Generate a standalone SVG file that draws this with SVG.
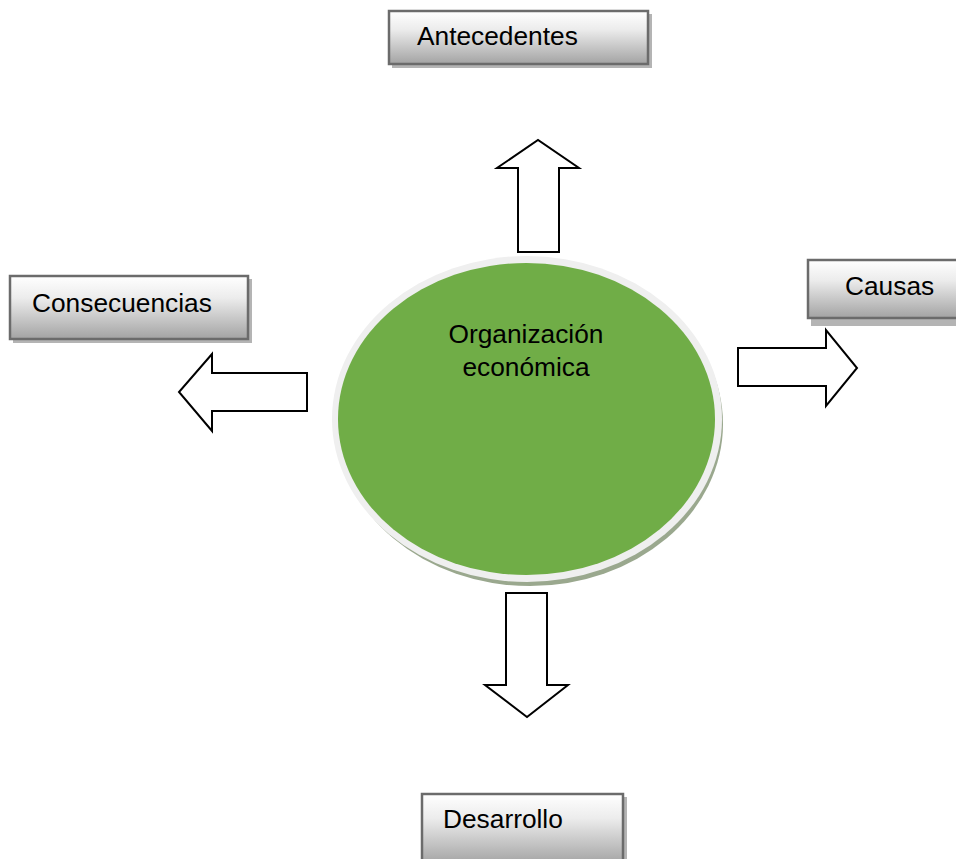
<svg xmlns="http://www.w3.org/2000/svg" width="956" height="859" viewBox="0 0 956 859">
<defs>
<linearGradient id="boxg" x1="0" y1="0" x2="0" y2="1">
<stop offset="0" stop-color="#ffffff"/>
<stop offset="0.35" stop-color="#ececec"/>
<stop offset="1" stop-color="#a3a3a3"/>
</linearGradient>
</defs>
<style>
.shadow{fill:#b4b4b4}
.box{fill:url(#boxg);stroke:#6b6b6b;stroke-width:2.5}
.lbl{font-family:"Liberation Sans",Arial,sans-serif;font-size:26.3px;fill:#000}
.arr{fill:#fff;stroke:#000;stroke-width:2;stroke-linejoin:miter}
</style>
<rect width="956" height="859" fill="#fff"/>
<g id="connectors">
<polygon class="arr" points="518,252 518,168 497,168 538,140 579,168 559,168 559,252"/>
<polygon class="arr" points="506,593 547,593 547,685 568,685 527,717 485,685 506,685"/>
<polygon class="arr" points="307,373 307,411 212,411 212,431 179,392 212,354 212,373"/>
<polygon class="arr" points="738,348 826,348 826,330 857,368 826,406 826,386 738,386"/>
</g>
<g id="center">
<ellipse cx="530" cy="424" rx="193" ry="162" fill="#9aa88e"/>
<ellipse cx="527" cy="419" rx="195" ry="163" fill="#efefef"/>
<ellipse cx="526.5" cy="419" rx="188.5" ry="156" fill="#70ad47"/>
<text class="lbl" x="526" y="343" text-anchor="middle">Organización</text>
<text class="lbl" x="526" y="376" text-anchor="middle">económica</text>
</g>
<g id="antecedentes">
<rect class="shadow" x="392" y="14" width="260" height="54"/>
<rect class="box" x="389" y="11" width="259" height="53"/>
<text class="lbl" x="417" y="45">Antecedentes</text>
</g>
<g id="consecuencias">
<rect class="shadow" x="13" y="279" width="239" height="64"/>
<rect class="box" x="10" y="276" width="238" height="63"/>
<text class="lbl" x="32" y="312">Consecuencias</text>
</g>
<g id="causas">
<rect class="shadow" x="811" y="263" width="150" height="63"/>
<rect class="box" x="808" y="260" width="152" height="58"/>
<text class="lbl" x="845" y="295">Causas</text>
</g>
<g id="desarrollo">
<rect class="shadow" x="426" y="797" width="201" height="70"/>
<rect class="box" x="422" y="794" width="201" height="70"/>
<text class="lbl" x="443" y="828">Desarrollo</text>
</g>
</svg>
